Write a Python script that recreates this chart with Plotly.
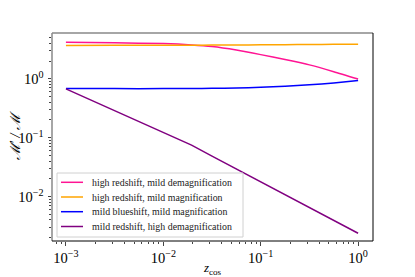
import plotly.graph_objects as go

logz = [-3, -2.5, -2, -1.71, -1.5, -1.25, -1, -0.75, -0.5, -0.25, 0]
z = [10 ** v for v in logz]

pink = [4.17, 4.08, 3.95, 3.75, 3.52, 3.07, 2.57, 2.12, 1.72, 1.32, 0.99]
orange = [3.67, 3.69, 3.71, 3.72, 3.73, 3.75, 3.77, 3.79, 3.81, 3.84, 3.86]
blue = [0.68, 0.68, 0.68, 0.683, 0.687, 0.697, 0.715, 0.745, 0.79, 0.85, 0.93]
purple = [0.675, 0.288, 0.123, 0.0745, 0.0486, 0.0295, 0.0177, 0.0107, 0.00643, 0.00397, 0.00238]

names = [
    "high redshift, mild demagnification",
    "high redshift, mild magnification",
    "mild blueshift, mild magnification",
    "mild redshift, high demagnification",
]
colors = ["#ff1493", "#ffa500", "#0000ff", "#800080"]
series = [pink, orange, blue, purple]
shapes = ["spline", "spline", "spline", "linear"]

x_tickvals = [1e-3, 1e-2, 1e-1, 1]
x_ticktext = ["10<sup>−3</sup>", "10<sup>−2</sup>", "10<sup>−1</sup>", "10<sup>0</sup>"]
y_tickvals = [1e-2, 1e-1, 1]
y_ticktext = ["10<sup>−2</sup>", "10<sup>−1</sup>", "10<sup>0</sup>"]

# page body has an 8px default margin: size the figure to fit the 415x277 window
OFF = 8
W, H = 415 - OFF, 277 - OFF
L, R, T, B = 52 - OFF, 42, 33 - OFF, 36
PW, PH = W - L - R, H - T - B

def px(xp):
    return (xp - OFF - L) / PW

def py(yp):
    return (H - B - (yp - OFF)) / PH

fig = go.Figure()
for n, c, s, sh in zip(names, colors, series, shapes):
    fig.add_trace(go.Scatter(x=z, y=s, mode="lines", name=n, showlegend=False,
                             line=dict(color=c, width=1.5, shape=sh, smoothing=0.6)))

font = "Liberation Serif"
fig.update_layout(
    width=W, height=H,
    margin=dict(l=L, r=R, t=T, b=B, autoexpand=False),
    paper_bgcolor="white", plot_bgcolor="white",
    font=dict(family=font, size=12, color="black"),
)
fig.update_xaxes(type="log", range=[-3.143, 0.153], showgrid=False, zeroline=False, automargin=False,
                 tickvals=x_tickvals, ticktext=x_ticktext, ticks="outside", ticklen=3.5, tickwidth=0.8,
                 ticklabelstandoff=0,
                 minor=dict(ticks="outside", ticklen=2, tickwidth=0.6, dtick="D1", showgrid=False),
                 title=dict(text="<i>z</i><sub>cos</sub>", standoff=5, font=dict(size=13, family=font)),
                 showline=False, tickfont=dict(size=14.5, family=font))
fig.update_yaxes(type="log", range=[-2.755, 0.777], showgrid=False, zeroline=False, automargin=False,
                 tickvals=y_tickvals, ticktext=y_ticktext, ticks="outside", ticklen=3.5, tickwidth=0.8,
                 ticklabelstandoff=1,
                 minor=dict(ticks="outside", ticklen=2, tickwidth=0.6, dtick="D1", showgrid=False),
                 title=dict(text="<i>ℳ′ / ℳ</i>", standoff=2, font=dict(size=14, family=font)),
                 showline=False, tickfont=dict(size=14.5, family=font))
# spines
fig.add_shape(type="line", xref="paper", yref="paper", x0=0, x1=1, y0=1, y1=1,
              line=dict(color="#888888", width=1.5))
fig.add_shape(type="line", xref="paper", yref="paper", x0=0, x1=0, y0=0, y1=1,
              line=dict(color="#888888", width=1.5))
fig.add_shape(type="line", xref="paper", yref="paper", x0=1, x1=1, y0=0, y1=1,
              line=dict(color="black", width=1))
fig.add_shape(type="line", xref="paper", yref="paper", x0=0, x1=1, y0=0, y1=0,
              line=dict(color="black", width=1))

# legend (matplotlib-style, compact)
fig.add_shape(type="rect", xref="paper", yref="paper",
              x0=px(57), x1=px(243), y0=py(237), y1=py(173),
              line=dict(color="#d0d0d0", width=1), fillcolor="rgba(255,255,255,0.85)")
row_y = [182.3, 197, 211.7, 226.5]
for n, c, ry in zip(names, colors, row_y):
    fig.add_shape(type="line", xref="paper", yref="paper",
                  x0=px(61), x1=px(83), y0=py(ry), y1=py(ry),
                  line=dict(color=c, width=1.5))
    fig.add_annotation(xref="paper", yref="paper", x=px(90), y=py(ry), text=n,
                       showarrow=False, xanchor="left", yanchor="middle",
                       font=dict(size=9.9, family=font, color="#222222"))
fig.write_html("out.html")
